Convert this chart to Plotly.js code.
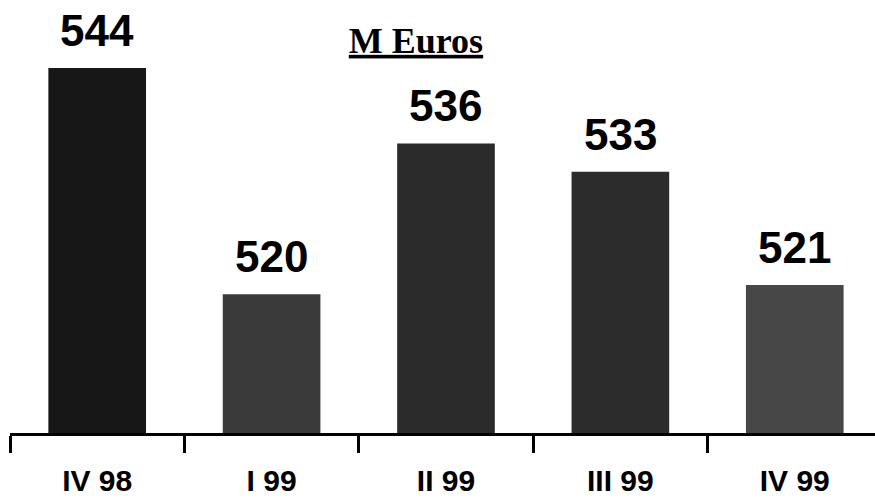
<!DOCTYPE html>
<html>
<head>
<meta charset="utf-8">
<script src="https://cdn.plot.ly/plotly-3.0.1.min.js"></script>
<style>html,body{margin:0;padding:0;background:#fff;}#chart{width:875px;height:503px;}</style>
</head>
<body>
<div id="chart"></div>
<script>
var categories = ["IV 98", "I 99", "II 99", "III 99", "IV 99"];
var values = [544, 520, 536, 533, 521];
var barColors = ["#171717", "#3a3a3a", "#2a2a2a", "#2c2c2c", "#474747"];
var chartTitle = "M Euros";

var trace = {
  type: "bar",
  x: categories,
  y: values,
  marker: {color: barColors, line: {width: 0}},
  hoverinfo: "none"
};

var annotations = categories.map(function (c, i) {
  return {
    x: c, y: values[i], xref: "x", yref: "y",
    text: "<b>" + values[i] + "</b>",
    showarrow: false, yanchor: "bottom", yshift: 11,
    font: {family: "Liberation Sans, Arial, sans-serif", size: 44, color: "#000"}
  };
});

var layout = {
  width: 875, height: 503,
  margin: {l: 10, r: 0, t: 0, b: 70},
  paper_bgcolor: "#fff", plot_bgcolor: "#fff",
  showlegend: false,
  bargap: 0.44,
  title: {
    text: "<u>" + chartTitle + "</u>",
    xref: "container", yref: "container",
    x: 0.4754, xanchor: "center", y: 0.92, yanchor: "middle",
    font: {family: "Liberation Serif, Times New Roman, serif", size: 36, weight: 700, color: "#000"}
  },
  xaxis: {
    type: "category",
    range: [-0.5, 4.46],
    showline: true, linecolor: "#000", linewidth: 3,
    ticks: "outside", tickson: "boundaries", ticklen: 17, tickwidth: 3, tickcolor: "#000",
    ticklabelstandoff: 19,
    tickfont: {family: "Liberation Sans, Arial, sans-serif", size: 30, weight: 700, color: "#000"},
    showgrid: false, zeroline: false, fixedrange: true
  },
  yaxis: {
    range: [505.3, 551.2],
    visible: false, showgrid: false, zeroline: false, fixedrange: true
  },
  annotations: annotations
};

Plotly.newPlot("chart", [trace], layout, {displayModeBar: false, staticPlot: true});
</script>
</body>
</html>
